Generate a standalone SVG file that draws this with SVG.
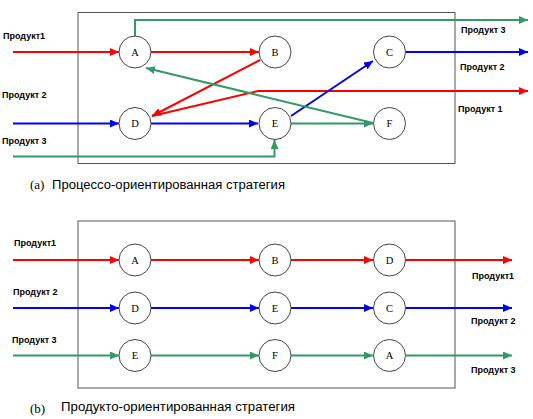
<svg xmlns="http://www.w3.org/2000/svg" width="533" height="419" viewBox="0 0 533 419">
<style>
.box{fill:none;stroke:#555;stroke-width:1}
.node circle{fill:#fff;stroke:#444;stroke-width:1}
.node text{font-family:"Liberation Serif","Times New Roman",serif;font-size:10.5px;fill:#000;text-anchor:middle}
.lbl{font-family:"Liberation Sans",Arial,sans-serif;font-size:9px;font-weight:bold;fill:#000}
.cap{font-family:"Liberation Sans",Arial,sans-serif;font-size:12px;fill:#000}
.capl{font-family:"Liberation Serif","Times New Roman",serif;font-size:13px;fill:#000}
.r{fill:none;stroke:#ff0000;stroke-width:2;marker-end:url(#ar)}
.b{fill:none;stroke:#0000ff;stroke-width:2;marker-end:url(#ab)}
.g{fill:none;stroke:#339966;stroke-width:2;marker-end:url(#ag)}
.rn{fill:none;stroke:#ff0000;stroke-width:2}
</style>
<defs>
<marker id="ar" markerUnits="userSpaceOnUse" markerWidth="9" markerHeight="8" refX="9" refY="4" orient="auto"><path d="M0,0 L9,4 L0,8 z" fill="#ff0000"/></marker>
<marker id="ab" markerUnits="userSpaceOnUse" markerWidth="9" markerHeight="8" refX="9" refY="4" orient="auto"><path d="M0,0 L9,4 L0,8 z" fill="#0000ff"/></marker>
<marker id="ag" markerUnits="userSpaceOnUse" markerWidth="9" markerHeight="8" refX="9" refY="4" orient="auto"><path d="M0,0 L9,4 L0,8 z" fill="#339966"/></marker>
</defs>
<rect width="533" height="419" fill="#fff"/>
<rect class="box" x="78" y="12.5" width="377" height="151"/>
<rect class="box" x="78" y="221" width="377" height="167"/>

<g id="connectors">
<!-- (a) -->
<path class="r" d="M13,52 L119,52"/>
<path class="r" d="M151,52 L259,52"/>
<path class="r" d="M260,60 L152,116"/>
<path class="r" d="M152,116 L258,91 L528,91"/>
<path class="b" d="M13,123.5 L119,123.5"/>
<path class="b" d="M151,123.5 L258,123.5"/>
<path class="b" d="M291,116 L373,61"/>
<path class="b" d="M406,52 L528,52"/>
<path class="g" d="M13,156.5 L274.5,156.5 L274.5,140"/>
<path class="g" d="M291,123.5 L373,123.5"/>
<path class="g" d="M373,123 L146,68"/>
<path class="g" d="M135,36 L135,20 L528,20"/>
<!-- (b) -->
<path class="r" d="M13,260 L119,260"/>
<path class="r" d="M151,260 L259,260"/>
<path class="r" d="M291,260 L373,260"/>
<path class="r" d="M406,260 L512,260"/>
<path class="b" d="M13,308 L119,308"/>
<path class="b" d="M151,308 L259,308"/>
<path class="b" d="M291,308 L373,308"/>
<path class="b" d="M406,308 L512,308"/>
<path class="g" d="M13,355.5 L119,355.5"/>
<path class="g" d="M151,355.5 L259,355.5"/>
<path class="g" d="M291,355.5 L373,355.5"/>
<path class="g" d="M406,355.5 L512,355.5"/>
</g>

<g id="a-A" class="node"><circle cx="135" cy="52" r="16"/><text x="135" y="55.5">A</text></g>
<g id="a-B" class="node"><circle cx="275" cy="52" r="16"/><text x="275" y="55.5">B</text></g>
<g id="a-C" class="node"><circle cx="389.5" cy="52" r="16"/><text x="389.5" y="55.5">C</text></g>
<g id="a-D" class="node"><circle cx="135" cy="123.5" r="16"/><text x="135" y="127">D</text></g>
<g id="a-E" class="node"><circle cx="275" cy="123.5" r="16"/><text x="275" y="127">E</text></g>
<g id="a-F" class="node"><circle cx="389.5" cy="123.5" r="16"/><text x="389.5" y="127">F</text></g>

<g id="b-A" class="node"><circle cx="135" cy="260" r="16"/><text x="135" y="263.5">A</text></g>
<g id="b-B" class="node"><circle cx="275" cy="260" r="16"/><text x="275" y="263.5">B</text></g>
<g id="b-D" class="node"><circle cx="389.5" cy="260" r="16"/><text x="389.5" y="263.5">D</text></g>
<g id="b-D2" class="node"><circle cx="135" cy="308" r="16"/><text x="135" y="311.5">D</text></g>
<g id="b-E" class="node"><circle cx="275" cy="308" r="16"/><text x="275" y="311.5">E</text></g>
<g id="b-C" class="node"><circle cx="389.5" cy="308" r="16"/><text x="389.5" y="311.5">C</text></g>
<g id="b-E2" class="node"><circle cx="135" cy="355.5" r="16"/><text x="135" y="359">E</text></g>
<g id="b-F" class="node"><circle cx="275" cy="355.5" r="16"/><text x="275" y="359">F</text></g>
<g id="b-A2" class="node"><circle cx="389.5" cy="355.5" r="16"/><text x="389.5" y="359">A</text></g>

<g id="labels">
<text class="lbl" x="3" y="38.5">Продукт1</text>
<text class="lbl" x="2" y="97.5">Продукт 2</text>
<text class="lbl" x="2" y="143.5">Продукт 3</text>
<text class="lbl" x="461" y="33">Продукт 3</text>
<text class="lbl" x="460" y="70">Продукт 2</text>
<text class="lbl" x="458" y="112">Продукт 1</text>
<text class="lbl" x="14" y="246">Продукт1</text>
<text class="lbl" x="13" y="294.5">Продукт 2</text>
<text class="lbl" x="12" y="342.5">Продукт 3</text>
<text class="lbl" x="472" y="279">Продукт1</text>
<text class="lbl" x="471" y="324">Продукт 2</text>
<text class="lbl" x="471" y="373">Продукт 3</text>
<text class="capl" x="30" y="189">(a)</text>
<text class="cap" x="52" y="189" textLength="233" lengthAdjust="spacingAndGlyphs">Процессо-ориентированная стратегия</text>
<text class="capl" x="30" y="412.5">(b)</text>
<text class="cap" x="61" y="411" textLength="234" lengthAdjust="spacingAndGlyphs">Продукто-ориентированная стратегия</text>
</g>
</svg>
